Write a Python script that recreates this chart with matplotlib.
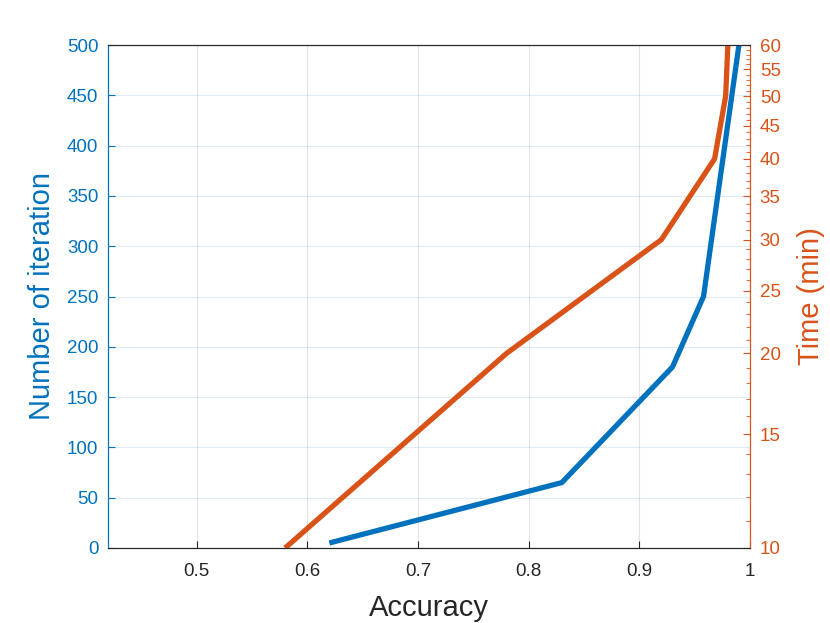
import matplotlib
matplotlib.use("Agg")
import matplotlib.pyplot as plt
from matplotlib.ticker import FixedLocator, NullFormatter

plt.rcParams['font.family'] = ['Liberation Sans', 'DejaVu Sans']

# data
iter_acc = [0.62, 0.83, 0.93, 0.958, 0.99]
iter_num = [5, 65, 180, 250, 500]
time_acc = [0.58, 0.78, 0.92, 0.968, 0.978, 0.98]
time_min = [10, 20, 30, 40, 50, 60]

x_ticks = [0.5, 0.6, 0.7, 0.8, 0.9, 1.0]
x_labels = ['0.5', '0.6', '0.7', '0.8', '0.9', '1']
left_ticks = list(range(0, 501, 50))
right_ticks = list(range(10, 61, 5))
right_minor = [v for v in range(10, 61) if v % 5 != 0]

blue = '#0072BD'
orange = '#D95319'

fig = plt.figure(figsize=(8.3, 6.23), dpi=100)
ax = fig.add_axes([108/830, 1 - 548/623, (750-108)/830, (548-45)/623])
ax2 = ax.twinx()

ax.plot(iter_acc, iter_num, color=blue, lw=3.8, solid_capstyle='butt')
ax2.plot(time_acc, time_min, color=orange, lw=3.8, solid_capstyle='butt')

ax.set_xlim(0.42, 1.0)
ax.set_ylim(0, 500)
ax.set_xticks(x_ticks)
ax.set_xticklabels(x_labels)
ax.set_yticks(left_ticks)

ax2.set_yscale('log')
ax2.set_ylim(10, 60)
ax2.yaxis.set_major_locator(FixedLocator(right_ticks))
ax2.yaxis.set_minor_locator(FixedLocator(right_minor))
ax2.set_yticklabels([str(v) for v in right_ticks])
ax2.yaxis.set_minor_formatter(NullFormatter())

# matlab-ish grid: x grid gray, y grid tinted with the left axis colour
ax.xaxis.grid(True, color='#262626', alpha=0.13, lw=0.8)
ax.yaxis.grid(True, color=blue, alpha=0.13, lw=0.8)
ax.set_axisbelow(True)

ax.tick_params(axis='both', direction='in', labelsize=13.5, length=5, width=0.8)
ax.tick_params(axis='x', colors='#262626', pad=11)
ax.tick_params(axis='y', colors=blue, labelcolor=blue, pad=7)
ax2.tick_params(axis='y', which='major', direction='in', colors=orange, labelsize=13.5,
                length=5, width=0.8, pad=7)
ax2.tick_params(axis='y', which='minor', direction='in', colors=orange, length=3, width=0.6)

for s in ['top', 'bottom']:
    ax.spines[s].set_color('#262626')
    ax2.spines[s].set_color('#262626')
ax.spines['left'].set_color(blue)
ax2.spines['left'].set_color(blue)
ax2.spines['right'].set_color(orange)
ax.spines['right'].set_color(orange)

ax.set_xlabel('Accuracy', fontsize=21, color='#262626', labelpad=10)
ax.set_ylabel('Number of iteration', fontsize=21, color=blue, labelpad=8)
ax2.set_ylabel('Time (min)', fontsize=21, color=orange, labelpad=12)

fig.savefig('out.png', dpi=100)
